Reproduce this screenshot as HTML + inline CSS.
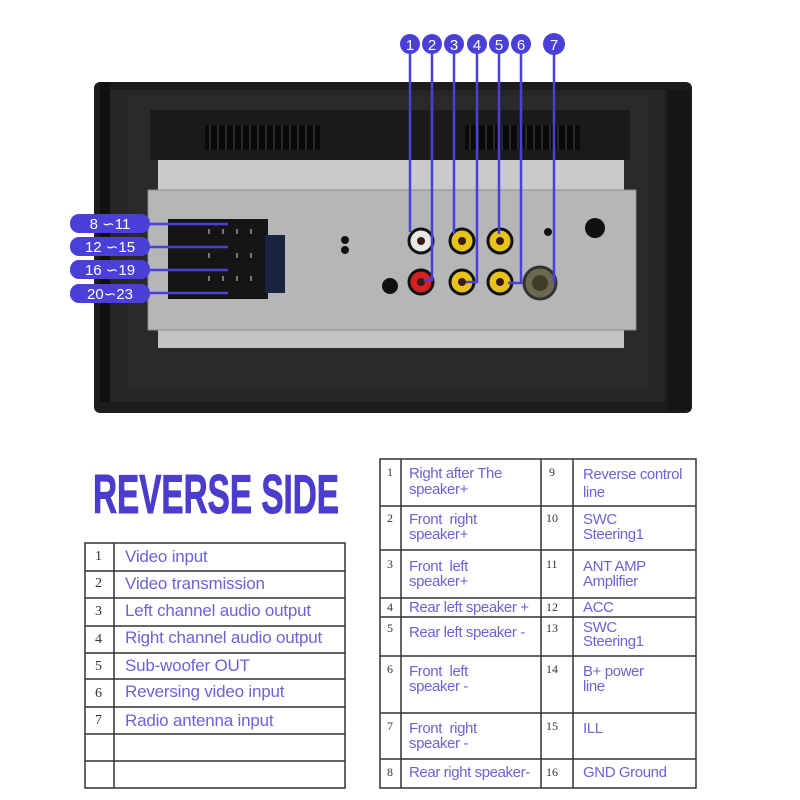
<!DOCTYPE html>
<html><head><meta charset="utf-8"><style>
*{margin:0;padding:0;box-sizing:border-box}
body{width:800px;height:800px;background:#fff;position:relative;overflow:hidden;font-family:"Liberation Sans",sans-serif}
.t{position:absolute;color:#6b63d6;font-size:15px;line-height:16px;white-space:nowrap;letter-spacing:-0.4px}
.n{position:absolute;color:#333;font-family:"Liberation Serif",serif;font-size:14px}
</style></head><body>
<svg width="800" height="800" style="position:absolute;left:0;top:0">
 <rect x="94" y="82" width="598" height="331" rx="6" fill="#1c1c1c"/>
 <rect x="110" y="90" width="555" height="312" fill="#262626"/>
 <rect x="128" y="97" width="520" height="290" fill="#2a2a2a"/>
 <rect x="150" y="110" width="480" height="50" fill="#1a1a1a"/>
 <g fill="#0a0a0a">
  <rect x="205" y="125" width="115" height="25"/>
  <rect x="465" y="125" width="115" height="25"/>
 </g>
 <g stroke="#333" stroke-width="1.5">
  <path d="M210 125v25M218 125v25M226 125v25M234 125v25M242 125v25M250 125v25M258 125v25M266 125v25M274 125v25M282 125v25M290 125v25M298 125v25M306 125v25M314 125v25"/>
  <path d="M470 125v25M478 125v25M486 125v25M494 125v25M502 125v25M510 125v25M518 125v25M526 125v25M534 125v25M542 125v25M550 125v25M558 125v25M566 125v25M574 125v25"/>
 </g>
 <rect x="100" y="82" width="10" height="320" fill="#111"/>
 <rect x="668" y="90" width="22" height="320" fill="#151515"/>
 <rect x="158" y="160" width="466" height="36" fill="#c9cacc"/>
 <rect x="158" y="328" width="466" height="20" fill="#c2c3c5"/>
 <rect x="148" y="190" width="488" height="140" fill="#b4b6b8"/>
 <rect x="148" y="190" width="488" height="140" fill="none" stroke="#8a8c8e"/>
 <rect x="168" y="219" width="100" height="80" fill="#151515"/>
 <rect x="265" y="235" width="20" height="58" fill="#1a2440"/>
 <g fill="#777"><rect x="208" y="229" width="2" height="5"/><rect x="222" y="229" width="2" height="5"/><rect x="236" y="229" width="2" height="5"/><rect x="250" y="229" width="2" height="5"/>
 <rect x="208" y="253" width="2" height="5"/><rect x="236" y="253" width="2" height="5"/><rect x="250" y="253" width="2" height="5"/>
 <rect x="208" y="276" width="2" height="5"/><rect x="222" y="276" width="2" height="5"/><rect x="236" y="276" width="2" height="5"/><rect x="250" y="276" width="2" height="5"/></g>
 <circle cx="345" cy="240" r="4" fill="#111"/><circle cx="345" cy="250" r="4" fill="#111"/>
 <circle cx="390" cy="286" r="8" fill="#111"/>
 <circle cx="548" cy="232" r="4" fill="#111"/>
 <circle cx="595" cy="228" r="10" fill="#111"/>
 <g stroke="#111" stroke-width="3">
  <circle cx="421" cy="241" r="12" fill="#e8e8e8"/>
  <circle cx="462" cy="241" r="12" fill="#e6c21a"/>
  <circle cx="500" cy="241" r="12" fill="#e6c21a"/>
  <circle cx="421" cy="282" r="12" fill="#d42020"/>
  <circle cx="462" cy="282" r="12" fill="#e6c21a"/>
  <circle cx="500" cy="282" r="12" fill="#e6c21a"/>
 </g>
 <g fill="#3a1a10"><circle cx="421" cy="241" r="4"/><circle cx="462" cy="241" r="4"/><circle cx="500" cy="241" r="4"/><circle cx="421" cy="282" r="4"/><circle cx="462" cy="282" r="4"/><circle cx="500" cy="282" r="4"/></g>
 <circle cx="540" cy="283" r="16" fill="#6b6a50" stroke="#333" stroke-width="3"/>
 <circle cx="540" cy="283" r="8" fill="#3f3e2a"/>
 <g stroke="#4a40d8" stroke-width="2.5" fill="none">
  <path d="M410 54V232"/><path d="M432 54V280H424"/><path d="M454 54V234"/><path d="M477 54V282H466"/><path d="M499 54V234"/><path d="M521 54V283H508"/><path d="M554 54V283"/>
  <path d="M150 224H228"/><path d="M150 247H228"/><path d="M150 270H228"/><path d="M150 293H228"/>
 </g>
 <g fill="#4a40d8">
  <circle cx="410" cy="44" r="10"/><circle cx="432" cy="44" r="10"/><circle cx="454" cy="44" r="10"/><circle cx="477" cy="44" r="10"/><circle cx="499" cy="44" r="10"/><circle cx="521" cy="44" r="10"/><circle cx="554" cy="44" r="11"/>
  <rect x="70" y="214" width="80" height="19" rx="9"/><rect x="70" y="237" width="80" height="19" rx="9"/><rect x="70" y="260" width="80" height="19" rx="9"/><rect x="70" y="284" width="80" height="19" rx="9"/>
 </g>
 <g fill="#fff" font-family="Liberation Sans" font-size="15" text-anchor="middle">
  <text x="410" y="50">1</text><text x="432" y="50">2</text><text x="454" y="50">3</text><text x="477" y="50">4</text><text x="499" y="50">5</text><text x="521" y="50">6</text><text x="554" y="50">7</text>
  <text x="110" y="229">8 ∽11</text><text x="110" y="252">12 ∽15</text><text x="110" y="275">16 ∽19</text><text x="110" y="299">20∽23</text>
 </g>
 <text x="93" y="513" font-family="Liberation Sans" font-weight="bold" font-size="55" fill="#4a3ccc" stroke="#4a3ccc" stroke-width="1" textLength="246" lengthAdjust="spacingAndGlyphs">REVERSE SIDE</text>
 <g stroke="#333" stroke-width="1.5" fill="none">
  <rect x="85" y="543" width="260" height="245"/>
  <path d="M114 543V788"/>
  <path d="M85 571H345M85 598H345M85 626H345M85 653H345M85 679H345M85 707H345M85 734H345M85 761H345"/>
 </g>
 <g stroke="#333" stroke-width="1.5" fill="none">
  <rect x="380" y="459" width="316" height="329"/>
  <path d="M401 459V788M541 459V788M573 459V788"/>
  <path d="M380 506H696M380 550H696M380 598H696M380 617H696M380 656H696M380 713H696M380 759H696"/>
 </g>
</svg>
<div class="n" style="left:95px;top:549px">1</div><div class="t" style="left:125px;top:549px;font-size:17px;letter-spacing:-0.2px">Video input</div>
<div class="n" style="left:95px;top:576px">2</div><div class="t" style="left:125px;top:576px;font-size:17px;letter-spacing:-0.2px">Video transmission</div>
<div class="n" style="left:95px;top:604px">3</div><div class="t" style="left:125px;top:603px;font-size:17px;letter-spacing:-0.2px">Left channel audio output</div>
<div class="n" style="left:95px;top:632px">4</div><div class="t" style="left:125px;top:630px;font-size:17px;letter-spacing:-0.2px">Right channel audio output</div>
<div class="n" style="left:95px;top:659px">5</div><div class="t" style="left:125px;top:658px;font-size:17px;letter-spacing:-0.2px">Sub-woofer OUT</div>
<div class="n" style="left:95px;top:686px">6</div><div class="t" style="left:125px;top:684px;font-size:17px;letter-spacing:-0.2px">Reversing video input</div>
<div class="n" style="left:95px;top:713px">7</div><div class="t" style="left:125px;top:713px;font-size:17px;letter-spacing:-0.2px">Radio antenna input</div>

<div class="n" style="left:387px;top:465px;font-size:12px">1</div><div class="t" style="left:409px;top:466px">Right after The<br>speaker+</div>
<div class="n" style="left:387px;top:511px;font-size:12px">2</div><div class="t" style="left:409px;top:512px;line-height:15px">Front&nbsp; right<br>speaker+</div>
<div class="n" style="left:387px;top:557px;font-size:12px">3</div><div class="t" style="left:409px;top:559px;line-height:15px">Front&nbsp; left<br>speaker+</div>
<div class="n" style="left:387px;top:600px;font-size:12px">4</div><div class="t" style="left:409px;top:600px">Rear left speaker +</div>
<div class="n" style="left:387px;top:621px;font-size:12px">5</div><div class="t" style="left:409px;top:625px">Rear left speaker -</div>
<div class="n" style="left:387px;top:662px;font-size:12px">6</div><div class="t" style="left:409px;top:664px;line-height:15px">Front&nbsp; left<br>speaker -</div>
<div class="n" style="left:387px;top:719px;font-size:12px">7</div><div class="t" style="left:409px;top:721px;line-height:15px">Front&nbsp; right<br>speaker -</div>
<div class="n" style="left:387px;top:765px;font-size:12px">8</div><div class="t" style="left:409px;top:765px">Rear right speaker-</div>

<div class="n" style="left:549px;top:465px;font-size:12px">9</div><div class="t" style="left:583px;top:466px;line-height:18px">Reverse control<br>line</div>
<div class="n" style="left:546px;top:511px;font-size:12px">10</div><div class="t" style="left:583px;top:512px;line-height:15px">SWC<br>Steering1</div>
<div class="n" style="left:546px;top:557px;font-size:12px">11</div><div class="t" style="left:583px;top:559px;line-height:15px">ANT AMP<br>Amplifier</div>
<div class="n" style="left:546px;top:600px;font-size:12px">12</div><div class="t" style="left:583px;top:600px">ACC</div>
<div class="n" style="left:546px;top:621px;font-size:12px">13</div><div class="t" style="left:583px;top:621px;line-height:14px">SWC<br>Steering1</div>
<div class="n" style="left:546px;top:662px;font-size:12px">14</div><div class="t" style="left:583px;top:664px;line-height:15px">B+ power<br>line</div>
<div class="n" style="left:546px;top:719px;font-size:12px">15</div><div class="t" style="left:583px;top:721px">ILL</div>
<div class="n" style="left:546px;top:765px;font-size:12px">16</div><div class="t" style="left:583px;top:765px">GND Ground</div>
</body></html>
